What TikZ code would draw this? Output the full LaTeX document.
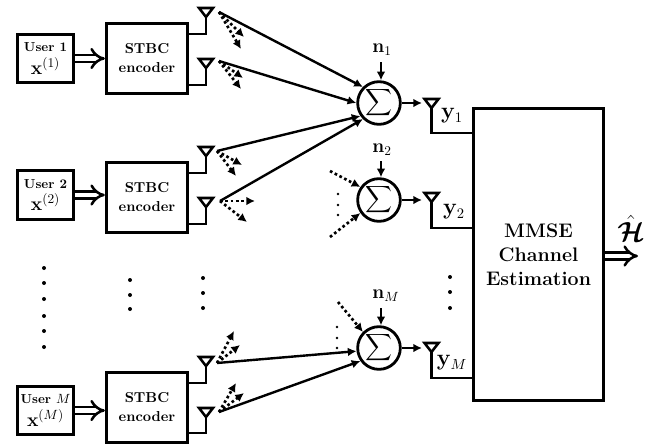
\documentclass[tikz,border=0pt]{standalone}
\usepackage{amsmath}
\usepackage{amssymb}
\usetikzlibrary{shapes,arrows.meta,positioning}

\tikzset{
  userbox/.style={draw, line width=2.2pt, minimum width=42.5pt, minimum height=36.5pt, inner sep=0pt, align=center, font=\fontsize{9.8}{12}\selectfont\bfseries},
  encbox/.style={draw, line width=2.2pt, minimum width=61pt, minimum height=52pt, inner sep=0pt, align=center, font=\fontsize{10.8}{14.25}\selectfont\bfseries},
  sumnode/.style={draw, circle, line width=2.1pt, minimum size=32pt, inner sep=0pt, font=\fontsize{14}{15}\selectfont},
  wire/.style={line width=1.9pt},
  sig/.style={line width=1.8pt, -{Latex[length=6.5pt,width=6.5pt]}},
  leak/.style={line width=2pt, dotted, -{Latex[length=6.5pt,width=6.5pt]}},
  tube/.style={line width=1.9pt, double, double distance=3.4pt, -{Implies[length=8pt,width=18pt]}},
  lab/.style={inner sep=0pt}
}

\begin{document}
\begin{tikzpicture}[x=0.75pt, y=-0.75pt]
\useasboundingbox (0,0) rectangle (658,444);

% users and encoders
\node[userbox] (user1) at (45.5,58.5) {User 1\\[3pt]\fontsize{14}{14}\selectfont$\mathbf{x}^{(1)}$};
\node[userbox] (user2) at (45.5,195) {User 2\\[3pt]\fontsize{14}{14}\selectfont$\mathbf{x}^{(2)}$};
\node[userbox] (userM) at (45.5,410.5) {User $M$\\[3pt]\fontsize{14}{14}\selectfont$\mathbf{x}^{(M)}$};
\node[encbox] (enc1) at (147,58.5) {STBC\\encoder};
\node[encbox] (enc2) at (147,197.5) {STBC\\encoder};
\node[encbox] (encM) at (147,407.5) {STBC\\encoder};
\draw[tube] (user1) -- (enc1.west |- user1);
\draw[tube] (user2) -- (enc2.west |- user2);
\draw[tube] (userM) -- (encM.west |- userM);

% receive side
\node[sumnode] (sum1) at (379,103) {$\displaystyle\boldsymbol{\sum}$};
\node[sumnode] (sum2) at (379,200) {$\displaystyle\boldsymbol{\sum}$};
\node[sumnode] (sumM) at (379,348) {$\displaystyle\boldsymbol{\sum}$};
\node[draw, line width=2.2pt, minimum width=98pt, minimum height=219.5pt, inner sep=0pt, align=center, font=\fontsize{14.7}{18}\selectfont\bfseries] (est) at (538.5,254.5) {MMSE\\Channel\\Estimation};

% transmit antennas: name/x/top/bottom of stem
\foreach \ant/\yt/\yb in {a1/8/34, a2/59/85, a3/147/173, a4/198/224, a5/357/383, a6/408/433} {
  \coordinate (\ant) at (206,\yt+9);
  \coordinate (\ant s) at (188,\yb);
  \draw[line width=1.9pt] (199,\yt) -- (213,\yt) -- (\ant) -- cycle;
  \draw[wire] (\ant s) -| (\ant);
}

% receive antennas
\foreach \ant/\yt/\yb in {r1/99/133, r2/193/228, rM/343/378} {
  \coordinate (\ant) at (431.5,\yt+9);
  \coordinate (\ant s) at (473,\yb);
  \draw[line width=1.9pt] (424.5,\yt) -- (438.5,\yt) -- (\ant) -- cycle;
  \draw[wire] (\ant s) -| (\ant);
  \coordinate (\ant i) at (422,\yt+5);
}
\node[lab] (y1) at (452,116) {\fontsize{16}{16}\selectfont$\mathbf{y}_1$};
\node[lab] (y2) at (454,212) {\fontsize{16}{16}\selectfont$\mathbf{y}_2$};
\node[lab] (yM) at (452,363) {\fontsize{16}{16}\selectfont$\mathbf{y}_M$};

% to the adders
\coordinate (t1) at (219,12);
\coordinate (t2) at (219,61);
\coordinate (t3) at (217,151);
\coordinate (t4) at (220,201);
\coordinate (t5) at (217,363);
\coordinate (t6) at (219,412);
\draw[sig] (t1) -- (sum1.north west);
\draw[sig] (t2) -- (sum1.west);
\draw[sig] (t3) -- (sum1.215);
\draw[sig] (t4) -- (sum1.south west);
\draw[sig] (t5) -- (sumM.188);
\draw[sig] (t6) -- (sumM.215);

% leaking to the other users
\foreach \from/\xa/\ya/\xb/\yb in {t1/244/37/241/49, t2/243/78/241/89, t3/242/165/236/176, t4/255/201/247/222, t5/234/331/240/345, t6/236/383/244/393} {
  \coordinate (e1) at (\xa,\ya);
  \coordinate (e2) at (\xb,\yb);
  \draw[leak] (\from) -- (e1);
  \draw[leak] (\from) -- (e2);
}
\coordinate (l1) at (330,171);
\coordinate (l2) at (330,237);
\coordinate (l3) at (338,302);
\draw[leak] (l1) -- (sum2.145);
\draw[leak] (l2) -- (sum2.215);
\draw[leak] (l3) -- (sumM.135);

% noise
\node[lab] (n1) at (382,50) {\fontsize{14.4}{15}\selectfont$\mathbf{n}_1$};
\node[lab] (n2) at (382,150) {\fontsize{14.4}{15}\selectfont$\mathbf{n}_2$};
\node[lab] (nM) at (386,296) {\fontsize{14.4}{15}\selectfont$\mathbf{n}_M$};
\draw[sig] (381,62) -- (sum1.north -| 381,0);
\draw[sig] (381,161) -- (sum2.north -| 381,0);
\draw[sig] (381,308) -- (sumM.north -| 381,0);
\draw[sig] (sum1) -- (r1i |- sum1);
\draw[sig] (sum2) -- (r2i |- sum2);
\draw[sig] (sumM) -- (rMi |- sumM);

% output
\coordinate (out) at (638,256);
\draw[tube] (est.east |- out) -- (out);
\node[lab] (hhat) at (631,228) {\fontsize{20}{22}\selectfont$\hat{\boldsymbol{\mathcal{H}}}$};

% vertical dots
\foreach \x/\y in {44/268, 44/283, 44/299, 44/316, 44/331, 44/347, 130/280, 130/295, 130/309, 203/278, 203/293, 203/308, 450/277, 450/292, 450/308}
  \fill (\x,\y) circle (2);
\foreach \x/\y in {338/194, 338/205, 338/215, 337/327, 337/338, 337/348}
  \fill (\x,\y) circle (1.3);
\end{tikzpicture}
\end{document}
